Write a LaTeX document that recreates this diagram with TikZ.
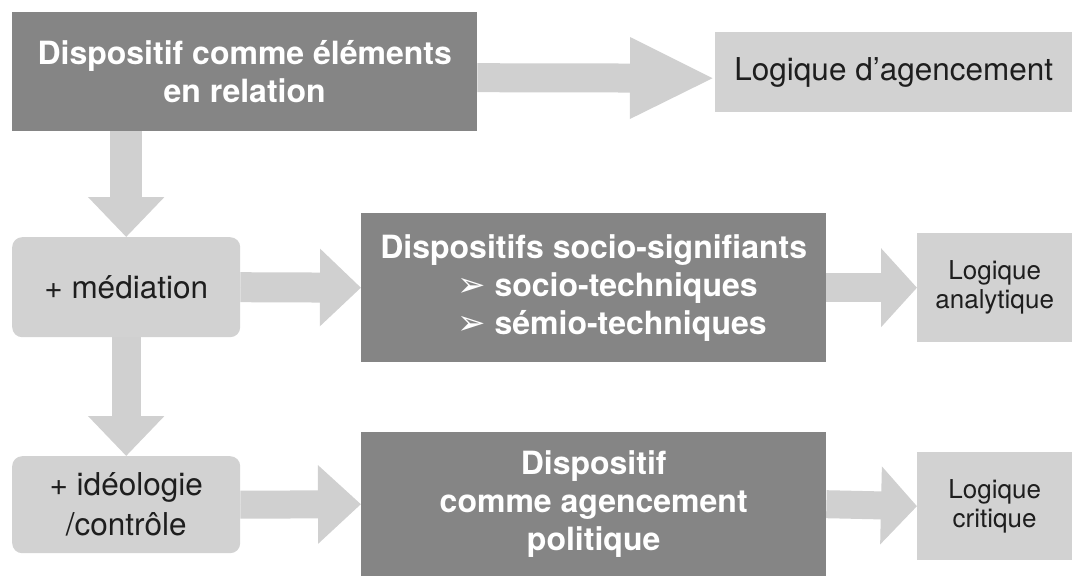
\documentclass[tikz,border=0pt]{standalone}
\usepackage{fontspec}
\setmainfont{TeX Gyre Heros}
\newfontfamily\dingfont{DejaVu Sans}
\usetikzlibrary{arrows.meta,calc}
\definecolor{cDark}{HTML}{858585}
\definecolor{cLight}{HTML}{D2D2D2}
\definecolor{cArrow}{HTML}{D0D0D0}
\definecolor{cText}{HTML}{1E1E1E}
\begin{document}
\begin{tikzpicture}[x=1pt,y=-1pt,
  darkbox/.style={fill=cDark, text=white, font=\bfseries\fontsize{32}{38}\selectfont,
    align=center, inner sep=0pt, anchor=north west},
  lightbox/.style={fill=cLight, text=cText, font=\fontsize{31.5}{40}\selectfont,
    align=center, inner sep=0pt, anchor=north west},
  smallbox/.style={lightbox, font=\fontsize{26}{29}\selectfont},
  blockarrow/.style={draw=cArrow, line width=#1, line cap=butt},
]
\useasboundingbox (0,0) rectangle (1077,576);
\fill[white] (0,0) rectangle (1077,576);

% nodes
\node[darkbox, minimum width=465pt, minimum height=119pt] (top) at (12,12)
  {Dispositif comme éléments\\en relation};
\node[lightbox, minimum width=357pt, minimum height=80pt] (agenc) at (715,32)
  {Logique d’agencement};
\node[lightbox, rounded corners=10pt, minimum width=228pt, minimum height=100pt] (med) at (12,237)
  {+ médiation};
\node[darkbox, minimum width=465pt, minimum height=149pt] (socio) at (361,213)
  {Dispositifs socio-signifiants\\
   \hspace*{32pt}\makebox[305pt][l]{{\dingfont\mdseries\fontsize{34}{38}\selectfont ➢} socio-techniques}\\
   \hspace*{32pt}\makebox[305pt][l]{{\dingfont\mdseries\fontsize{34}{38}\selectfont ➢} sémio-techniques}};
\node[smallbox, minimum width=155pt, minimum height=109pt] (analyt) at (917,233)
  {Logique\\analytique};
\node[lightbox, rounded corners=10pt, minimum width=228pt, minimum height=97pt] (ideo) at (12,456)
  {+ idéologie\\/contrôle};
\node[darkbox, minimum width=465pt, minimum height=144pt] (polit) at (361,432)
  {Dispositif\\comme agencement\\politique};
\node[smallbox, minimum width=155pt, minimum height=108pt] (crit) at (917,452)
  {Logique\\critique};

% block arrows
\draw[blockarrow=29pt, -{Triangle[length=85pt,width=75pt]}, fill=cArrow]
  ([yshift=-6pt]top.east) -- ([yshift=-6pt]agenc.west);
\draw[blockarrow=32pt, -{Triangle[length=40pt,width=74pt]}, fill=cArrow]
  (med.north |- top.south) -- (med.north);
\draw[blockarrow=29pt, -{Triangle[length=40pt,width=74pt]}, fill=cArrow]
  (med.south) -- (ideo.north);
\draw[blockarrow=30pt, -{Triangle[length=41pt,width=75pt]}, fill=cArrow]
  (med.east) -- (socio.west);
\draw[blockarrow=29pt, -{Triangle[length=36pt,width=77pt]}, fill=cArrow]
  (socio.east) -- (analyt.west);
\draw[blockarrow=28pt, -{Triangle[length=43pt,width=76pt]}, fill=cArrow]
  (ideo.east) -- (polit.west);
\draw[blockarrow=28pt, -{Triangle[length=36pt,width=76pt]}, fill=cArrow]
  (polit.east) -- (crit.west);
\end{tikzpicture}
\end{document}
